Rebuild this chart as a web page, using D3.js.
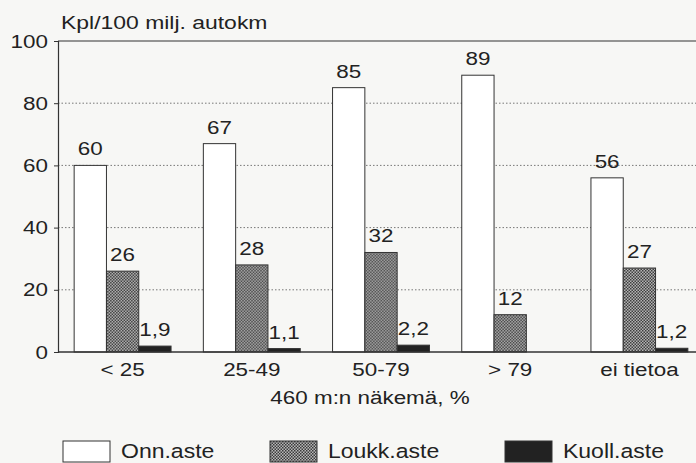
<!DOCTYPE html>
<html>
<head>
<meta charset="utf-8">
<script src="https://cdn.jsdelivr.net/npm/d3@7"></script>
<style>
  html, body { margin: 0; padding: 0; background: #f7f7f5; }
  svg { display: block; }
  text { font-family: "Liberation Sans", Arial, Helvetica, sans-serif; fill: #222; }
</style>
</head>
<body>
<svg id="chart" width="696" height="463"></svg>
<script>
// Accidents per 100 million vehicle-km by sight distance share
const categories = ["< 25", "25-49", "50-79", "> 79", "ei tietoa"];
const seriesNames = ["Onn.aste", "Loukk.aste", "Kuoll.aste"];
const onnValues = [60, 67, 85, 89, 56];
const loukkValues = [26, 28, 32, 12, 27];
const kuollValues = [1.9, 1.1, 2.2, null, 1.2];
const yTicks = [0, 20, 40, 60, 80, 100];
const yTitle = "Kpl/100 milj. autokm";
const xTitle = "460 m:n näkemä, %";

const seriesValues = [onnValues, loukkValues, kuollValues];
const fills = ["#ffffff", "url(#hatch)", "#222222"];

// the lettering is set wide: stretch text horizontally around its anchor
const STRETCH = 1.18;
function widen(sel, s = STRETCH) {
  sel.each(function() {
    const t = d3.select(this);
    const x = +(t.attr("x") || 0);
    t.attr("x", x / s).attr("transform", `scale(${s},1)`);
  });
}

const svg = d3.select("#chart");
const margin = { left: 58, top: 41, bottom: 352 };
const rightEdge = 704;

// checker pattern for the injury series
const defs = svg.append("defs");
const pat = defs.append("pattern")
  .attr("id", "hatch").attr("patternUnits", "userSpaceOnUse")
  .attr("width", 3).attr("height", 3);
pat.append("rect").attr("width", 3).attr("height", 3).attr("fill", "#b8b8b8");
pat.append("rect").attr("width", 1.5).attr("height", 1.5).attr("fill", "#3a3a3a");
pat.append("rect").attr("x", 1.5).attr("y", 1.5).attr("width", 1.5).attr("height", 1.5).attr("fill", "#3a3a3a");

const x0 = d3.scaleBand().domain(categories)
  .range([margin.left, rightEdge]).paddingInner(0.25).paddingOuter(0.125);
const x1 = d3.scaleBand().domain(d3.range(seriesNames.length))
  .range([0, x0.bandwidth()]);
const y = d3.scaleLinear().domain([0, 100]).range([margin.bottom, margin.top]);

// dotted grid lines
svg.append("g").selectAll("line").data(yTicks.filter(t => t > 0 && t < 100)).join("line")
  .attr("x1", margin.left).attr("x2", 696)
  .attr("y1", d => y(d)).attr("y2", d => y(d))
  .attr("stroke", "#777").attr("stroke-width", 1)
  .attr("stroke-dasharray", "1.5,2");

// top frame line
svg.append("line")
  .attr("x1", margin.left).attr("x2", 696)
  .attr("y1", y(100)).attr("y2", y(100))
  .attr("stroke", "#333").attr("stroke-width", 1.2);

// bars with value labels
const groups = svg.append("g").selectAll("g").data(categories).join("g")
  .attr("transform", d => `translate(${x0(d)},0)`);

groups.each(function(cat, ci) {
  const g = d3.select(this);
  seriesValues.forEach((vals, si) => {
    const v = vals[ci];
    if (v === null || v === undefined) return;
    g.append("rect")
      .attr("x", x1(si)).attr("width", x1.bandwidth())
      .attr("y", y(v)).attr("height", y(0) - y(v))
      .attr("fill", fills[si])
      .attr("stroke", "#333").attr("stroke-width", 1);
    g.append("text")
      .attr("class", "val")
      .attr("x", x1(si) + x1.bandwidth() / 2)
      .attr("y", y(v) - 10)
      .attr("text-anchor", "middle")
      .attr("font-size", 19)
      .text(String(v).replace(".", ","));
  });
});
widen(svg.selectAll("text.val"));

// y axis
const yAxis = d3.axisLeft(y).tickValues(yTicks).tickSize(4).tickPadding(6);
const yg = svg.append("g").attr("transform", `translate(${margin.left},0)`).call(yAxis);
yg.select(".domain").attr("stroke", "#333").attr("stroke-width", 1.2);
yg.selectAll(".tick line").attr("stroke", "#333");
yg.selectAll(".tick text").attr("font-size", 19).attr("fill", "#222")
  .attr("font-family", "Liberation Sans, Arial, sans-serif");
widen(yg.selectAll(".tick text"));

// x axis
const xAxis = d3.axisBottom(x0).tickSize(0).tickPadding(11);
const xg = svg.append("g").attr("transform", `translate(0,${margin.bottom})`).call(xAxis);
xg.select(".domain").attr("stroke", "#333").attr("stroke-width", 1.5)
  .attr("d", `M${margin.left},0H696`);
xg.selectAll(".tick text").attr("font-size", 19).attr("fill", "#222")
  .attr("font-family", "Liberation Sans, Arial, sans-serif");
widen(xg.selectAll(".tick text"));

// titles
widen(svg.append("text").attr("x", margin.left + 3).attr("y", 29)
  .attr("font-size", 18.5).text(yTitle), 1.24);
widen(svg.append("text").attr("x", 370).attr("y", 404)
  .attr("text-anchor", "middle").attr("font-size", 19).text(xTitle));

// legend
const legendX = [63, 270, 505];
const lg = svg.append("g").selectAll("g").data(seriesNames).join("g")
  .attr("transform", (d, i) => `translate(${legendX[i]},441)`);
lg.append("rect").attr("width", 47).attr("height", 21)
  .attr("fill", (d, i) => fills[i]).attr("stroke", "#333").attr("stroke-width", 1);
lg.append("text").attr("x", 58).attr("y", 16.5).attr("font-size", 19.5).text(d => d);
widen(lg.selectAll("text"));
</script>
</body>
</html>
